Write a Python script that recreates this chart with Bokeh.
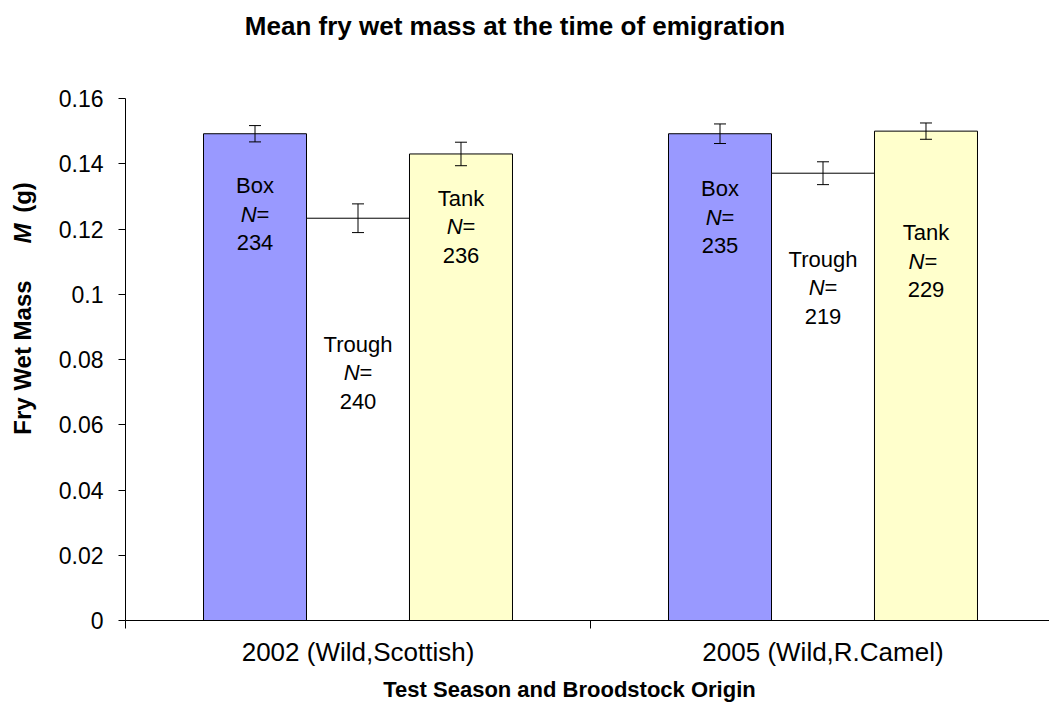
import math
from bokeh.plotting import figure
from bokeh.models import Range1d, FixedTicker, Whisker, TeeHead, ColumnDataSource, Label
from bokeh.core.properties import value
from bokeh.embed import file_html
from bokeh.resources import INLINE

# ---------------- data ----------------
categories = ["2002 (Wild,Scottish)", "2005 (Wild,R.Camel)"]
treatments = ["Box", "Trough", "Tank"]
box_mean = [0.1492, 0.1492]
trough_mean = [0.1233, 0.1371]
tank_mean = [0.1430, 0.1500]
box_err = [0.0025, 0.0030]
trough_err = [0.0044, 0.0035]
tank_err = [0.0036, 0.0025]
box_n = [234, 235]
trough_n = [240, 219]
tank_n = [236, 229]
y_ticks = [0, 0.02, 0.04, 0.06, 0.08, 0.1, 0.12, 0.14, 0.16]
y_tick_labels = ["0", "0.02", "0.04", "0.06", "0.08", "0.1", "0.12", "0.14", "0.16"]

title_text = "Mean fry wet mass at the time of emigration"
x_title = "Test Season and Broodstock Origin"

# ---------------- layout constants ----------------
FONT = value("Liberation Sans")
BW = 0.2215
offsets = [-BW, 0.0, BW]
colors = ["#9999FF", "#FFFFFF", "#FFFFCC"]
means = [box_mean, trough_mean, tank_mean]
errs = [box_err, trough_err, tank_err]
ns = [box_n, trough_n, tank_n]
# first-line label heights (data units) per treatment, per category
label_y0 = {"Box": [0.1333, 0.1324], "Trough": [0.0846, 0.1108], "Tank": [0.1294, 0.1189]}
n_space = {"Box": ["", ""], "Trough": ["", ""], "Tank": ["", " "]}
LINE = 28.5 / 522 * 0.16
LBL_FS = 22

W, H = 1049, 709
p = figure(width=W, height=H, output_backend="svg", toolbar_location=None,
           x_range=Range1d(0, (1049 - 125) / 465), y_range=Range1d(0, 0.16),
           min_border_left=125, min_border_right=0, min_border_top=98,
           min_border_bottom=H - 620)
p.outline_line_color = None
p.xgrid.visible = False
p.ygrid.visible = False
p.background_fill_color = "white"
p.border_fill_color = "white"

for j, t in enumerate(treatments):
    xs = [i + 0.5 + offsets[j] for i in range(len(categories))]
    p.vbar(x=xs, width=BW, bottom=0, top=means[j], fill_color=colors[j],
           line_color="black", line_width=1)
    src = ColumnDataSource(dict(x=xs,
                                upper=[m + e for m, e in zip(means[j], errs[j])],
                                lower=[m - e for m, e in zip(means[j], errs[j])]))
    w = Whisker(base="x", upper="upper", lower="lower", source=src, dimension="height",
                line_color="black", line_width=1, level="overlay",
                upper_head=TeeHead(size=12, line_color="black", line_width=1),
                lower_head=TeeHead(size=12, line_color="black", line_width=1))
    p.add_layout(w)

    # labels
    y0 = label_y0[t]
    p.text(x=xs, y=y0, text=[t] * len(xs), text_font=FONT, text_font_size=f"{LBL_FS}px",
           text_align="center", text_baseline="middle", text_color="black")
    y1 = [y - LINE for y in y0]
    n_off = []
    for sp in n_space[t]:
        tot = (0.722 + 0.278 * len(sp) + 0.584) * LBL_FS
        n_off.append(-tot / 2 + 0.722 * LBL_FS)
    p.text(x=xs, y=y1, text=["N"] * len(xs), x_offset=n_off, text_font=FONT,
           text_font_size=f"{LBL_FS}px", text_font_style="italic",
           text_align="right", text_baseline="middle", text_color="black")
    p.text(x=xs, y=y1, text=[sp + "=" for sp in n_space[t]], x_offset=n_off, text_font=FONT,
           text_font_size=f"{LBL_FS}px", text_align="left", text_baseline="middle",
           text_color="black")
    y2 = [y - 2 * LINE for y in y0]
    p.text(x=xs, y=y2, text=[str(n) for n in ns[j]], text_font=FONT,
           text_font_size=f"{LBL_FS}px", text_align="center", text_baseline="middle",
           text_color="black")

# y axis
ya = p.yaxis[0]
ya.ticker = FixedTicker(ticks=y_ticks, minor_ticks=[])
ya.major_label_overrides = {t: l for t, l in zip(y_ticks, y_tick_labels)}
ya.major_tick_out = 7
ya.major_tick_in = 0
ya.minor_tick_out = 0
ya.minor_tick_in = 0
ya.axis_line_color = "black"
ya.major_tick_line_color = "black"
ya.major_label_text_font = "Liberation Sans"
ya.major_label_text_font_size = "23px"
ya.major_label_text_color = "black"
ya.major_label_standoff = 15

# x axis
xa = p.xaxis[0]
xa.ticker = FixedTicker(ticks=[0.5, 1.5], minor_ticks=[0, 1, 2])
xa.major_label_overrides = {0.5: categories[0], 1.5: categories[1]}
xa.major_tick_out = 0
xa.major_tick_in = 0
xa.minor_tick_out = 8
xa.minor_tick_in = 0
xa.axis_line_color = "black"
xa.minor_tick_line_color = "black"
xa.major_label_text_font = "Liberation Sans"
xa.major_label_text_font_size = "26px"
xa.major_label_text_color = "black"
xa.major_label_standoff = 8


def add_label(side, px, py, text, size, style, angle=0.0):
    p.add_layout(Label(x=px, y=py, x_units="canvas", y_units="canvas", text=text,
                       angle=angle, text_align="center", text_baseline="middle",
                       text_font="Liberation Sans", text_font_size=size,
                       text_font_style=style, text_color="black"), side)


# side-panel labels (canvas coordinates) so they are not clipped to the frame
add_label("above", 514.5, 25, title_text, "26px", "bold")
add_label("below", 569, 689, x_title, "22px", "bold")
add_label("left", 22, 357, "Fry Wet Mass", "24px", "bold", math.pi / 2)
add_label("above", 22, 233, "M", "24px", "bold italic", math.pi / 2)
add_label("above", 22, 197, "(g)", "24px", "bold", math.pi / 2)

open("out.html", "w").write(file_html(p, INLINE))
